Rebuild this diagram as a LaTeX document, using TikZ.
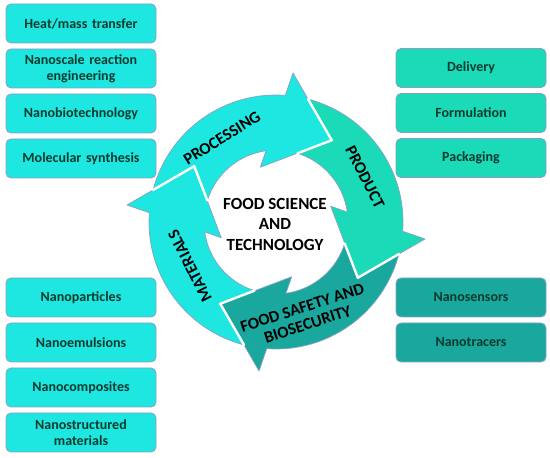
\documentclass[tikz,border=0pt]{standalone}
\usepackage{fontspec}
\setmainfont{Carlito}
\usepackage{tikz}
\usetikzlibrary{positioning}
\definecolor{cyanfill}{HTML}{1EE6E0}
\definecolor{greenfill}{HTML}{1ADAB8}
\definecolor{tealfill}{HTML}{1AA89E}
\definecolor{boxedge}{HTML}{8C9EC6}
\definecolor{inktext}{HTML}{0B3A2E}

\begin{document}
\begin{tikzpicture}[x=1pt, y=1pt,
  item/.style = {draw=boxedge, line width=0.8pt, rounded corners=5pt,
    minimum width=150pt, minimum height=39pt, inner sep=2pt,
    text width=144pt, align=center, text=inktext,
    font=\bfseries\fontsize{14}{16}\selectfont},
  seg/.style = {draw=boxedge, line width=0.7pt, line join=round},
  gap/.style = {draw=white, line width=2.4pt, line cap=round, line join=round},
  ringlabel/.style = {text=black, align=center,
    font=\bfseries\fontsize{16.5}{17.5}\selectfont}]
  \useasboundingbox (0,0) rectangle (550,458);

  \node[item, fill=cyanfill] at (81, 434.5) (heat) {Heat/mass transfer};
  \node[item, fill=cyanfill] at (81, 389.5) (reaction) {Nanoscale reaction\\engineering};
  \node[item, fill=cyanfill] at (81, 344.5) (biotech) {Nanobiotechnology};
  \node[item, fill=cyanfill] at (81, 299.5) (synthesis) {Molecular synthesis};

  \node[item, fill=greenfill] at (471, 390) (delivery) {Delivery};
  \node[item, fill=greenfill] at (471, 345) (formulation) {Formulation};
  \node[item, fill=greenfill] at (471, 300) (packaging) {Packaging};

  \node[item, fill=cyanfill] at (81, 160.5) (particles) {Nanoparticles};
  \node[item, fill=cyanfill] at (81, 115.5) (emulsions) {Nanoemulsions};
  \node[item, fill=cyanfill] at (81, 70.5) (composites) {Nanocomposites};
  \node[item, fill=cyanfill] at (81, 25.5) (structured) {Nanostructured\\materials};

  \node[item, fill=tealfill] at (471, 160.5) (sensors) {Nanosensors};
  \node[item, fill=tealfill] at (471, 115.5) (tracers) {Nanotracers};

  \begin{scope}[shift={(276,236)}]
    \filldraw[seg, fill=cyanfill] (165.4:127) arc[start angle=165.4, end angle=85.8, radius=127pt]
      -- (83.5:150) -- (55.7:99) -- (106:57) -- (97.9:72)
      arc[start angle=97.9, end angle=162.6, radius=72pt] -- (145.7:99) -- cycle;
  \end{scope}
  \begin{scope}[shift={(276,236)}, rotate=-90]
    \filldraw[seg, fill=greenfill] (165.4:127) arc[start angle=165.4, end angle=85.8, radius=127pt]
      -- (83.5:150) -- (55.7:99) -- (106:57) -- (97.9:72)
      arc[start angle=97.9, end angle=162.6, radius=72pt] -- (145.7:99) -- cycle;
  \end{scope}
  \begin{scope}[shift={(276,236)}, rotate=-180]
    \filldraw[seg, fill=tealfill] (165.4:127) arc[start angle=165.4, end angle=85.8, radius=127pt]
      -- (83.5:150) -- (55.7:99) -- (106:57) -- (97.9:72)
      arc[start angle=97.9, end angle=162.6, radius=72pt] -- (145.7:99) -- cycle;
  \end{scope}
  \begin{scope}[shift={(276,236)}, rotate=90]
    \filldraw[seg, fill=cyanfill] (165.4:127) arc[start angle=165.4, end angle=85.8, radius=127pt]
      -- (83.5:150) -- (55.7:99) -- (106:57) -- (97.9:72)
      arc[start angle=97.9, end angle=162.6, radius=72pt] -- (145.7:99) -- cycle;
  \end{scope}

  % white seams where each head meets the next tail
  \begin{scope}[shift={(276,236)}]
    \draw[gap] (75.4:127) -- (55.7:99) -- (72.6:72);
    \draw[gap, rotate=-90] (75.4:127) -- (55.7:99) -- (72.6:72);
    \draw[gap, rotate=-180] (75.4:127) -- (55.7:99) -- (72.6:72);
    \draw[gap, rotate=90] (75.4:127) -- (55.7:99) -- (72.6:72);
  \end{scope}

  \node[ringlabel, rotate=32] at (222, 320) (processing) {PROCESSING};
  \node[ringlabel, rotate=-63] at (365, 281) (product) {PRODUCT};
  \node[ringlabel, rotate=18] at (305, 142) (safety) {FOOD SAFETY AND\\BIOSECURITY};
  \node[ringlabel, rotate=117] at (190, 192) (materials) {MATERIALS};

  \node[align=center, font=\bfseries\fontsize{17}{20.5}\selectfont] at (275, 234) (core)
    {FOOD SCIENCE\\AND\\TECHNOLOGY};
\end{tikzpicture}
\end{document}
